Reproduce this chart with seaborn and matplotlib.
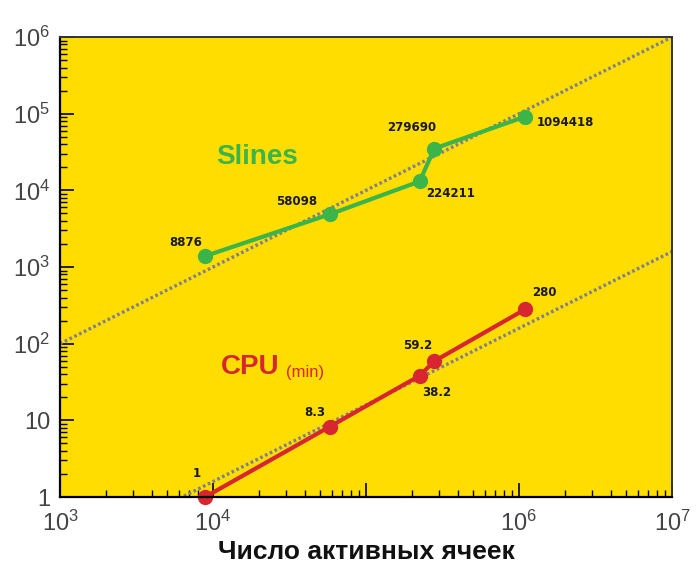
import matplotlib
matplotlib.use("Agg")
import matplotlib.pyplot as plt
from matplotlib import font_manager
import seaborn as sns
import pandas as pd
import numpy as np

# ---- data ----
cells = [8876, 58098, 224211, 279690, 1094418]
slines = [1390, 4880, 13100, 35100, 91400]
cpu = [1, 8.3, 38.2, 59.2, 280]
slines_labels = ["8876", "58098", "224211", "279690", "1094418"]
cpu_labels = ["1", "8.3", "38.2", "59.2", "280"]
ref_x = [1e3, 1e7]
ref_upper = [1e2, 1e6]
ref_lower = [0.159, 1590]
x_ticks = [1e3, 1e4, 1e5, 1e6, 1e7]
x_ticklabels = ["$10^3$", "$10^4$", "", "$10^6$", "$10^7$"]
y_ticks = [1, 10, 1e2, 1e3, 1e4, 1e5, 1e6]
y_ticklabels = ["1", "10", "$10^2$", "$10^3$", "$10^4$", "$10^5$", "$10^6$"]

sns.set_style("ticks")
names = {f.name for f in font_manager.fontManager.ttflist}
narrow = "Liberation Sans Narrow" if "Liberation Sans Narrow" in names else "Liberation Sans"
plt.rcParams["font.family"] = [narrow, "DejaVu Sans"]
plt.rcParams["mathtext.fontset"] = "custom"
plt.rcParams["mathtext.rm"] = narrow
plt.rcParams["mathtext.default"] = "regular"

YELLOW = "#FFDD00"
GREEN = "#3BB44A"
RED = "#D7262F"
GRAY = "#7f7f8e"

fig = plt.figure(figsize=(6.96, 5.69), dpi=100)
ax = fig.add_axes([0.0862, 0.1265, 0.8793, 0.8084])
ax.set_facecolor(YELLOW)

ref = pd.DataFrame({"x": ref_x, "upper": ref_upper, "lower": ref_lower})
sns.lineplot(data=ref, x="x", y="upper", ax=ax, color=GRAY, linestyle=(0, (0.8, 0.8)), linewidth=2.4)
sns.lineplot(data=ref, x="x", y="lower", ax=ax, color=GRAY, linestyle=(0, (0.8, 0.8)), linewidth=2.4)

df = pd.DataFrame({"cells": cells, "slines": slines, "cpu": cpu})
sns.lineplot(data=df, x="cells", y="slines", ax=ax, color=GREEN, linewidth=3,
             marker="o", markersize=11, markeredgewidth=0, sort=False, clip_on=False)
sns.lineplot(data=df, x="cells", y="cpu", ax=ax, color=RED, linewidth=3,
             marker="o", markersize=11, markeredgewidth=0, sort=False, clip_on=False)

ax.set_xscale("log")
ax.set_yscale("log")
ax.set_xlim(1e3, 1e7)
ax.set_ylim(1, 1e6)
ax.set_xticks(x_ticks)
ax.set_xticklabels(x_ticklabels)
ax.set_yticks(y_ticks)
ax.set_yticklabels(y_ticklabels)
ax.tick_params(which="major", direction="in", length=10, width=1.2, color="black",
               labelsize=17, labelcolor="#444444")
ax.tick_params(axis="x", which="major", pad=10)
ax.tick_params(axis="y", which="major", pad=7)
ax.tick_params(which="minor", direction="in", length=5, width=1.0, color="black")
ax.tick_params(axis="y", which="both", left=True, right=False)
ax.tick_params(axis="x", which="both", bottom=True, top=False)
for s in ["left", "bottom"]:
    ax.spines[s].set_linewidth(1.6)
    ax.spines[s].set_color("black")
for s in ["top", "right"]:
    ax.spines[s].set_linewidth(1.4)
    ax.spines[s].set_color("#333333")

ax.set_xlabel("Число активных ячеек", fontsize=19, fontweight="bold", color="#111111", labelpad=3)
ax.set_ylabel("")

s_off = [(-14, 10), (-24, 9), (22, -9), (-16, 15), (29, -4)]
c_off = [(-6, 17), (-11, 10), (12, -12), (-12, 11), (14, 12)]
for xv, yv, t, o in zip(cells, slines, slines_labels, s_off):
    ax.annotate(t, (xv, yv), xytext=o, textcoords="offset points", ha="center", va="center",
                fontsize=8.5, fontweight="bold", color="#1a1a1a", family="DejaVu Sans")
for xv, yv, t, o in zip(cells, cpu, cpu_labels, c_off):
    ax.annotate(t, (xv, yv), xytext=o, textcoords="offset points", ha="center", va="center",
                fontsize=8.5, fontweight="bold", color="#1a1a1a", family="DejaVu Sans")

ax.text(257 / 696, 1 - 157 / 569, "Slines", transform=fig.transFigure, ha="center", va="center",
        fontsize=20, fontweight="bold", color=GREEN, family="Liberation Sans")
ax.text(280 / 696, 1 - 367 / 569, "CPU", transform=fig.transFigure, ha="right", va="center",
        fontsize=20, fontweight="bold", color=RED, family="Liberation Sans")
ax.text(286 / 696, 1 - 373 / 569, "(min)", transform=fig.transFigure, ha="left", va="center",
        fontsize=12, color=RED, family=narrow)

fig.savefig("out.png", dpi=100, facecolor="white")
